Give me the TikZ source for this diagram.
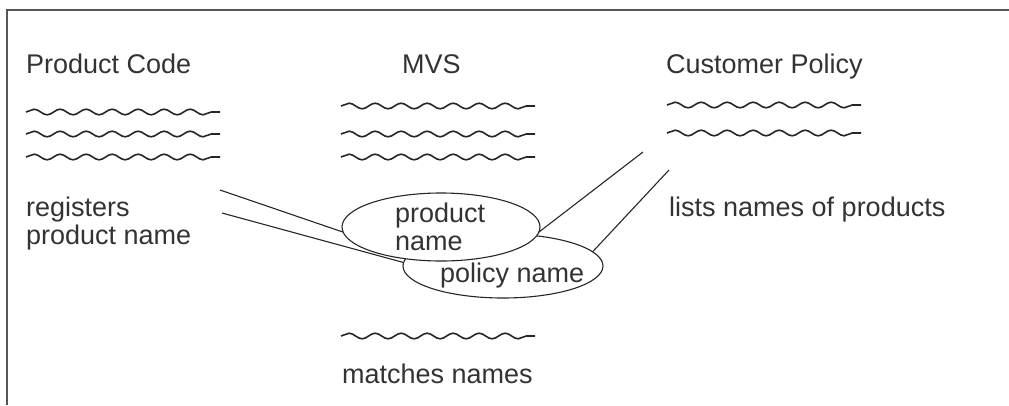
\documentclass[tikz,border=0pt]{standalone}
\usepackage{fontspec}
\setmainfont{Liberation Sans}
\usetikzlibrary{shapes.geometric, decorations.pathmorphing}
\definecolor{inkgray}{HTML}{333333}
\definecolor{framegray}{HTML}{555555}

\begin{document}
\begin{tikzpicture}[x=1pt, y=-1pt,
    txt/.style={anchor=base west, inner sep=0, text=inkgray, font=\fontsize{27}{28}\selectfont},
    squiggle/.style={black!85, line width=1.6pt, decorate, decoration={snake, segment length=26, amplitude=2.8}},
    bubble/.style={ellipse, draw=black!85, line width=1.1pt, fill=white, inner sep=0, outer sep=0},
    link/.style={black!85, line width=1.1pt}]

            \useasboundingbox (0,0) rectangle (1009,405);
            \draw[framegray, line width=1.4pt] (7,405) -- (7,10) -- (1009,10);

            \node[txt] (prodcode) at (26,73) {Product Code};
            \node[txt] (mvs) at (402,73) {MVS};
            \node[txt] (custpol) at (666,73) {Customer Policy};

            \foreach \y in {112,134,157}
            \draw[squiggle] (26,\y) -- ++(194,0);
            \foreach \y in {106,134,157}
            \draw[squiggle] (341,\y) -- ++(194,0);
            \foreach \y in {105,133}
            \draw[squiggle] (667,\y) -- ++(194,0);
            \draw[squiggle] (341,336) -- ++(194,0);

            \node[txt, align=left] (registers) at (26,244) {registers\\product name};
            \node[txt] (lists) at (669,216) {lists names of products};
            \node[txt] (matches) at (342,383) {matches names};

            \coordinate (pcA) at (220,190);
            \coordinate (pcB) at (222,213);
            \coordinate (cpA) at (643,152);
            \coordinate (cpB) at (669,170);

            \node[bubble, minimum width=200, minimum height=64] (polname) at (503,266) {};
            \draw[link] (pcB) -- (polname.178);
            \draw[link] (cpB) -- (polname.9);
            \node[bubble, minimum width=198, minimum height=68] (prodname) at (441,227) {};
            \draw[link] (pcA) -- (prodname.183);
            \draw[link] (cpA) -- (prodname.357);

            \node[txt, align=left] (prodtext) at (395,250) {product\\name};
            \node[txt] (poltext) at (440,282) {policy name};
        \end{tikzpicture}
\end{document}
